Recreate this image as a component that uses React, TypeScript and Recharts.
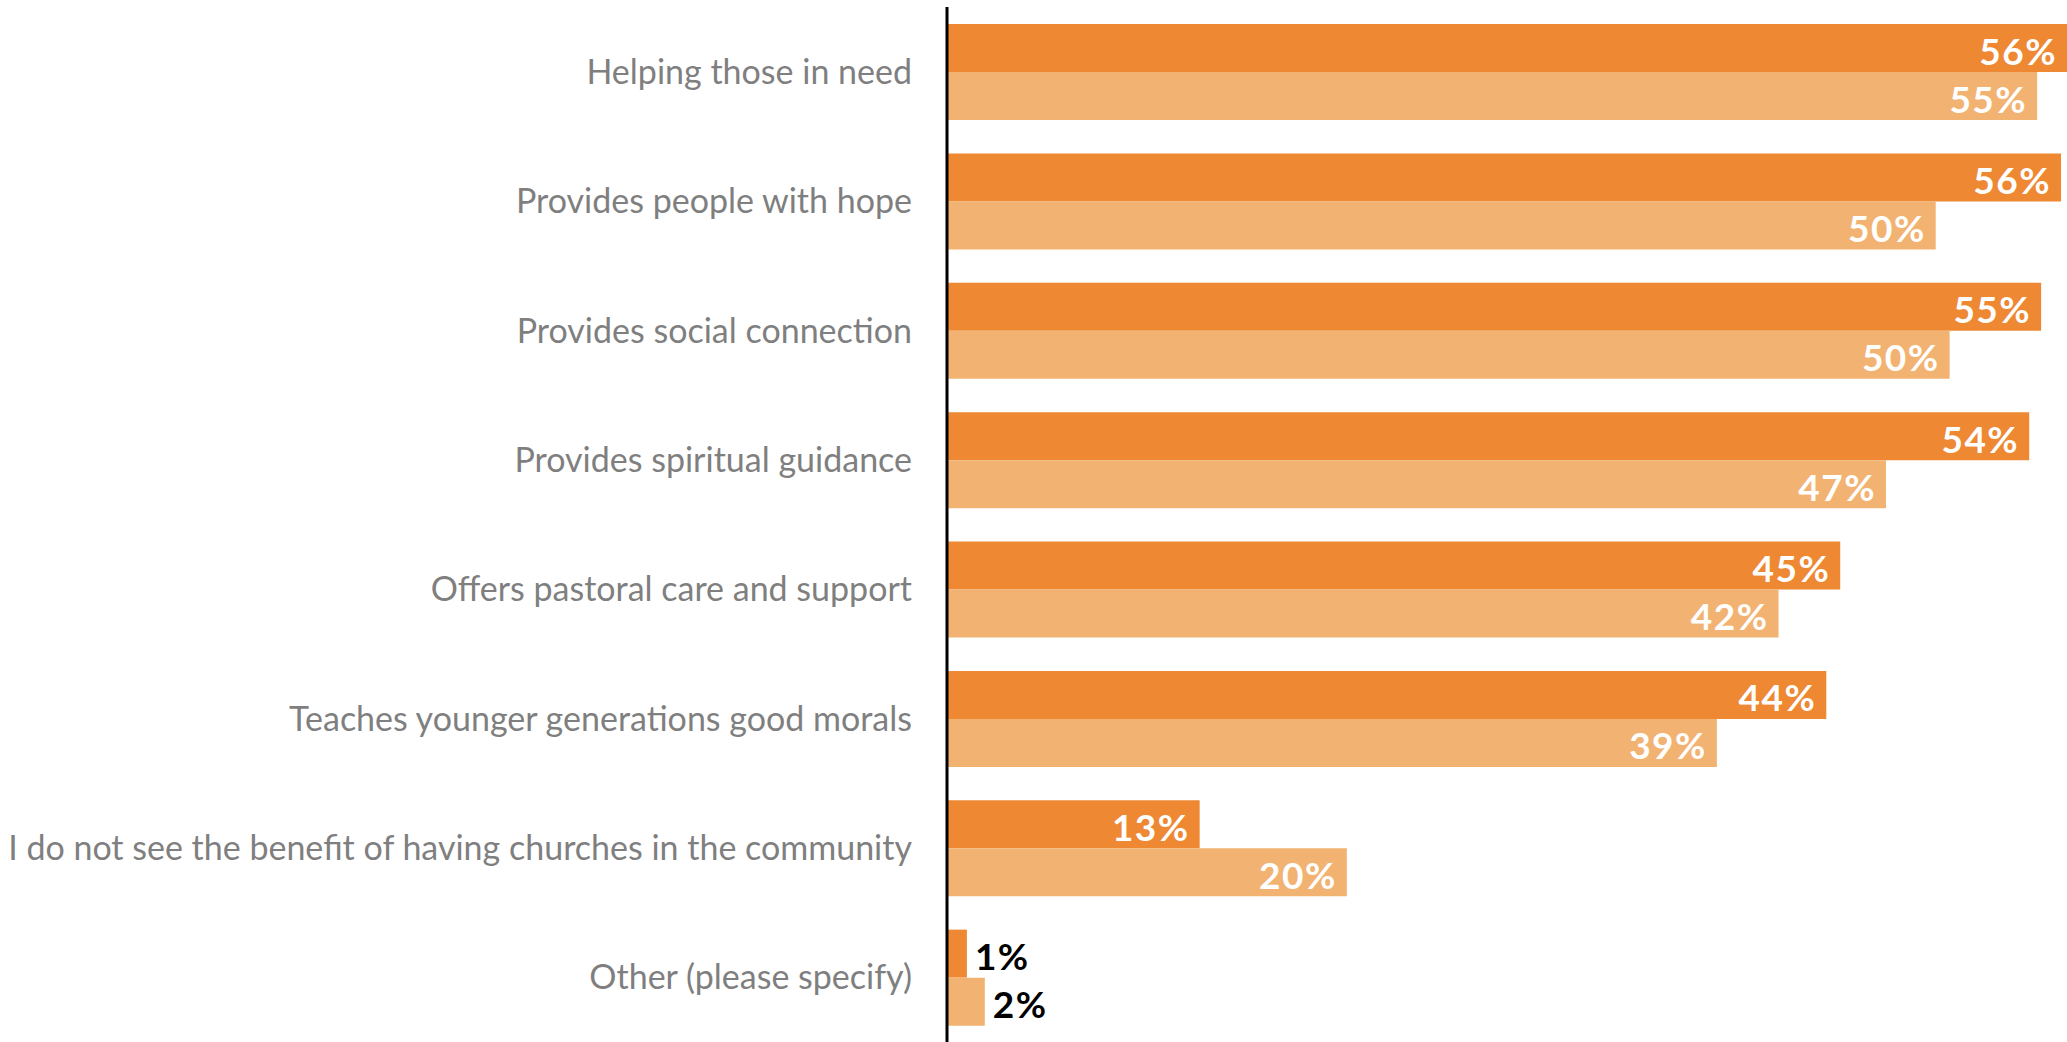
import { Bar, BarChart, LabelList, XAxis, YAxis } from "recharts";

const categories = [
  "Helping those in need",
  "Provides people with hope",
  "Provides social connection",
  "Provides spiritual guidance",
  "Offers pastoral care and support",
  "Teaches younger generations good morals",
  "I do not see the benefit of having churches in the community",
  "Other (please specify)",
];

// bar lengths (%), labels as printed
const seriesA = [56.3, 56.0, 55.0, 54.4, 44.9, 44.2, 12.7, 1.0];
const seriesB = [54.8, 49.7, 50.4, 47.2, 41.8, 38.7, 20.1, 1.9];
const labelsA = [56, 56, 55, 54, 45, 44, 13, 1];
const labelsB = [55, 50, 50, 47, 42, 39, 20, 2];

const data = categories.map((name, i) => ({
  name,
  a: seriesA[i],
  b: seriesB[i],
  la: labelsA[i],
  lb: labelsB[i],
}));

const DARK = "#EE8833";
const LIGHT = "#F2B372";
const FONT = "Lato, 'Open Sans', sans-serif";

function ValueLabel(props: any) {
  const { x, y, width, height, value } = props;
  const inside = Number(value) >= 5;
  const cy = Number(y) + Number(height) / 2 + 2;
  return (
    <text
      x={inside ? Number(x) + Number(width) - 10 : Number(x) + Number(width) + 8}
      y={cy}
      textAnchor={inside ? "end" : "start"}
      dominantBaseline="central"
      fill={inside ? "#ffffff" : "#000000"}
      fontFamily={FONT}
      fontWeight={700}
      fontSize={37}
      letterSpacing={1.5}
    >
      {value}%
    </text>
  );
}

export default function App() {
  return (
    <div style={{ position: "absolute", left: 0, top: 0, background: "#fff" }}>
      <BarChart
        width={2067}
        height={1042}
        data={data}
        layout="vertical"
        margin={{ top: 7, right: 0, bottom: 0, left: 0 }}
        barSize={48}
        barGap={0}
      >
        <XAxis type="number" hide domain={[0, 56.3]} allowDataOverflow />
        <YAxis
          type="category"
          dataKey="name"
          width={947}
          tickLine={false}
          tickSize={0}
          tickMargin={35}
          axisLine={{ stroke: "#000000", strokeWidth: 3 }}
          tick={{ fill: "#7f7f7f", fontSize: 34, fontFamily: FONT }}
          interval={0}
        />
        <Bar dataKey="a" fill={DARK} isAnimationActive={false}>
          <LabelList dataKey="la" content={ValueLabel} />
        </Bar>
        <Bar dataKey="b" fill={LIGHT} isAnimationActive={false}>
          <LabelList dataKey="lb" content={ValueLabel} />
        </Bar>
      </BarChart>
    </div>
  );
}
